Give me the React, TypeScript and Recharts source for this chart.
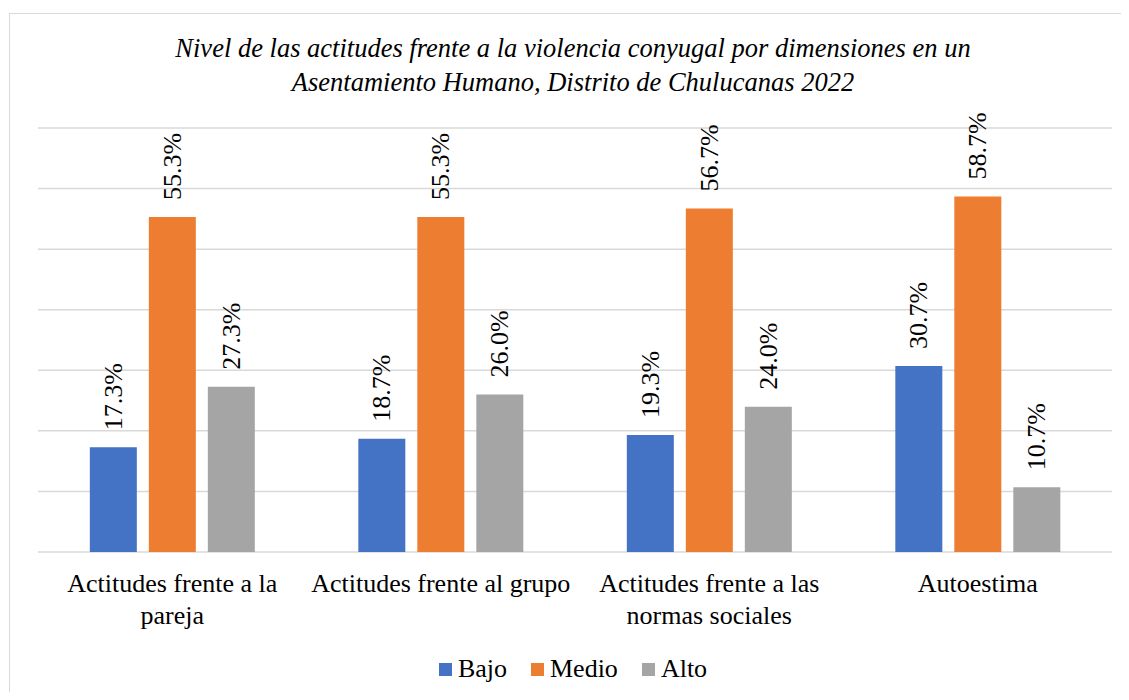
import React from 'react'
import { Bar, BarChart, CartesianGrid, LabelList, XAxis, YAxis } from 'recharts'

const categories = [
  'Actitudes frente a la pareja',
  'Actitudes frente al grupo',
  'Actitudes frente a las normas sociales',
  'Autoestima',
]
const tickLines = [
  ['Actitudes frente a la', 'pareja'],
  ['Actitudes frente al grupo'],
  ['Actitudes frente a las', 'normas sociales'],
  ['Autoestima'],
]
const bajo = [17.3, 18.7, 19.3, 30.7]
const medio = [55.3, 55.3, 56.7, 58.7]
const alto = [27.3, 26.0, 24.0, 10.7]
const yTicks = [0, 10, 20, 30, 40, 50, 60, 70]

const series = [
  { key: 'bajo', name: 'Bajo', color: '#4472C4' },
  { key: 'medio', name: 'Medio', color: '#ED7D31' },
  { key: 'alto', name: 'Alto', color: '#A5A5A5' },
]

const data = categories.map((name, i) => ({
  name,
  bajo: bajo[i],
  medio: medio[i],
  alto: alto[i],
}))

const FONT = '"Liberation Serif", serif'

function CategoryTick(props: any) {
  const { x, y, index } = props
  const lines = tickLines[index] || []
  return (
    <g>
      {lines.map((line, i) => (
        <text
          key={i}
          x={x}
          y={y + 32 + i * 32}
          textAnchor="middle"
          fontFamily={FONT}
          fontSize={26}
          fill="#000"
        >
          {line}
        </text>
      ))}
    </g>
  )
}

function ValueLabel(props: any) {
  const { x, y, width, value } = props
  const cx = x + width / 2
  const cy = y - 17
  return (
    <text
      x={cx}
      y={cy}
      transform={`rotate(-90 ${cx} ${cy})`}
      textAnchor="start"
      dominantBaseline="central"
      fontFamily={FONT}
      fontSize={26}
      fill="#000"
    >
      {`${Number(value).toFixed(1)}%`}
    </text>
  )
}

export default function App() {
  return (
    <div style={{ position: 'relative', margin: -8, width: 1129, height: 700, background: '#fff', fontFamily: FONT }}>
      <div
        style={{
          position: 'absolute',
          left: 9,
          top: 13,
          width: 1140,
          height: 700,
          border: '1px solid #d9d9d9',
          boxSizing: 'border-box',
        }}
      />
      <div
        style={{
          position: 'absolute',
          left: 0,
          width: 1146,
          top: 31,
          textAlign: 'center',
          fontStyle: 'italic',
          fontSize: 26.5,
          lineHeight: '34px',
          color: '#000',
        }}
      >
        Nivel de las actitudes frente a la violencia conyugal por dimensiones en un
        <br />
        Asentamiento Humano, Distrito de Chulucanas 2022
      </div>
      <div style={{ position: 'absolute', left: 0, top: 0 }}>
        <BarChart
          width={1129}
          height={700}
          data={data}
          margin={{ top: 128, right: 17, left: 38, bottom: 88 }}
          barCategoryGap="19.3%"
          barGap={12}
        >
          <CartesianGrid vertical={false} stroke="#d9d9d9" strokeWidth={1.5} />
          <YAxis hide domain={[0, 70]} ticks={yTicks} />
          <XAxis
            dataKey="name"
            height={60}
            axisLine={false}
            tickLine={false}
            interval={0}
            tick={<CategoryTick />}
          />
          {series.map((s) => (
            <Bar key={s.key} dataKey={s.key} name={s.name} fill={s.color} isAnimationActive={false}>
              <LabelList dataKey={s.key} content={<ValueLabel />} />
            </Bar>
          ))}
        </BarChart>
      </div>
      <div
        style={{
          position: 'absolute',
          left: 0,
          width: 1146,
          top: 654,
          display: 'flex',
          justifyContent: 'center',
          fontSize: 26,
          lineHeight: '30px',
          color: '#000',
        }}
      >
        {series.map((s) => (
          <div key={s.key} style={{ display: 'flex', alignItems: 'center', margin: '0 12px' }}>
            <span style={{ display: 'inline-block', width: 13, height: 13, background: s.color, marginRight: 6 }} />
            <span>{s.name}</span>
          </div>
        ))}
      </div>
    </div>
  )
}
